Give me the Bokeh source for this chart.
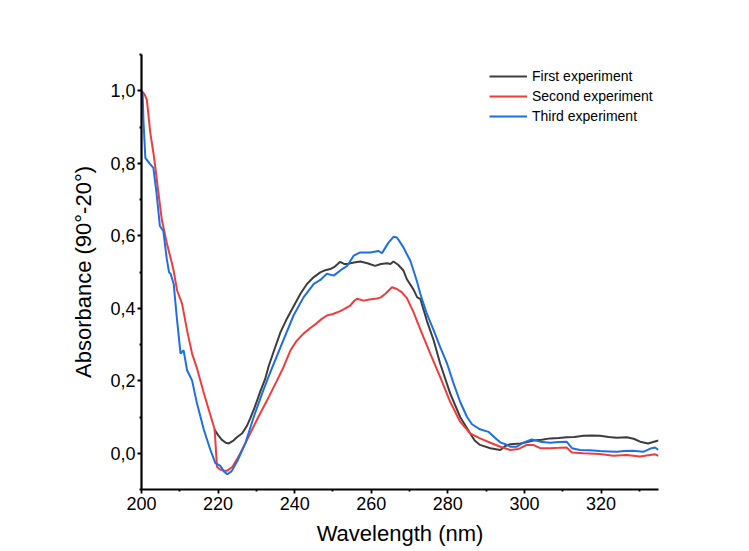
from bokeh.plotting import figure
from bokeh.models import Range1d, FixedTicker, CustomJSTickFormatter, Legend, LegendItem
from bokeh.embed import file_html
from bokeh.resources import INLINE

# ---- data ----
first_x = [219.0, 220.0, 221.0, 222.0, 222.8, 224.0, 225.0, 226.3, 227.5, 228.4, 229.5, 231.0, 232.3, 233.2,
           234.5, 236.3, 238.0, 239.7, 241.5, 243.2, 245.0, 246.7, 248.0, 249.3, 250.5, 251.9, 253.0, 253.7,
           255.5, 257.1, 259.0, 261.0, 262.5, 264.1, 265.0, 265.8, 267.0, 268.4, 269.3, 271.0, 272.0, 272.8,
           274.5, 276.3, 278.0, 280.6, 283.2, 285.8, 287.0, 288.4, 291.1, 293.7, 295.0, 296.3, 298.9, 300.5,
           302.3, 304.5, 306.7, 309.0, 311.0, 313.0, 315.4, 317.5, 319.7, 322.0, 324.1, 326.7, 328.5, 330.2,
           332.3, 334.5, 335.0]
first_y = [0.066, 0.050, 0.037, 0.029, 0.027, 0.035, 0.045, 0.055, 0.075, 0.096, 0.125, 0.17, 0.205, 0.24,
           0.28, 0.334, 0.372, 0.405, 0.44, 0.467, 0.486, 0.499, 0.505, 0.508, 0.515, 0.528, 0.522, 0.522,
           0.526, 0.529, 0.524, 0.517, 0.522, 0.524, 0.522, 0.529, 0.52, 0.504, 0.48, 0.452, 0.43, 0.426,
           0.366, 0.311, 0.247, 0.165, 0.10, 0.055, 0.035, 0.023, 0.014, 0.009, 0.02, 0.025, 0.027, 0.030,
           0.035, 0.037, 0.041, 0.042, 0.044, 0.045, 0.048, 0.049, 0.048, 0.045, 0.043, 0.044, 0.04, 0.032,
           0.027, 0.034, 0.035]

second_x = [200.0, 200.8, 201.4, 202.3, 203.1, 203.6, 204.4, 205.3, 206.6, 207.9, 208.4, 209.3, 210.6, 211.9,
            213.2, 214.5, 216.3, 218.0, 219.1, 219.7, 220.5, 221.5, 222.4, 223.7, 225.0, 225.8, 227.0, 228.4,
            230.5, 232.8, 235.4, 237.1, 238.9, 240.5, 242.3, 244.0, 245.8, 247.0, 248.4, 250.0, 251.9, 253.0,
            254.5, 255.5, 256.3, 258.0, 259.5, 261.5, 262.5, 263.7, 265.4, 266.7, 268.0, 269.3, 271.0, 272.8,
            275.4, 278.0, 280.6, 283.2, 285.8, 288.4, 291.1, 293.7, 296.3, 298.4, 298.9, 300.6, 302.3, 304.1,
            306.7, 309.0, 311.0, 312.4, 315.4, 319.7, 323.2, 326.7, 330.2, 332.8, 334.1, 335.0]
second_y = [1.0, 0.99, 0.975, 0.884, 0.829, 0.79, 0.72, 0.645, 0.58, 0.526, 0.503, 0.449, 0.412, 0.339,
            0.275, 0.234, 0.165, 0.105, 0.066, -0.037, -0.045, -0.048, -0.048, -0.038, -0.015, 0.0, 0.025, 0.055,
            0.10, 0.146, 0.201, 0.238, 0.284, 0.31, 0.33, 0.345, 0.359, 0.37, 0.38, 0.384, 0.392, 0.398,
            0.407, 0.42, 0.426, 0.421, 0.424, 0.427, 0.43, 0.44, 0.458, 0.453, 0.444, 0.428, 0.39, 0.342,
            0.275, 0.21, 0.142, 0.087, 0.055, 0.041, 0.029, 0.018, 0.009, 0.012, 0.014, 0.023, 0.023, 0.014,
            0.014, 0.015, 0.016, 0.002, 0.0, -0.002, -0.007, -0.005, -0.009, -0.005, -0.003, -0.007]

third_x = [200.0, 200.3, 200.5, 201.0, 202.3, 203.1, 203.9, 204.8, 205.7, 206.6, 207.2, 207.6, 208.4, 209.3,
           210.2, 211.0, 211.9, 213.2, 214.5, 216.3, 218.0, 219.3, 220.6, 221.5, 222.4, 223.5, 225.0, 227.1,
           229.3, 231.5, 232.8, 233.5, 236.3, 239.7, 242.3, 245.0, 246.7, 248.4, 250.2, 252.0, 253.7, 255.4,
           257.1, 259.7, 261.9, 262.8, 264.5, 265.8, 266.7, 267.6, 268.4, 269.3, 270.2, 271.0, 271.9, 272.8,
           274.5, 276.3, 278.0, 279.8, 281.5, 283.2, 285.0, 286.3, 288.4, 290.6, 292.8, 293.7, 295.0, 296.3,
           298.0, 299.7, 301.9, 304.1, 306.7, 309.0, 311.0, 312.4, 314.5, 317.0, 319.7, 322.0, 324.1, 326.0,
           328.4, 331.0, 333.2, 334.1, 335.0]
third_y = [1.0, 0.993, 0.92, 0.815, 0.797, 0.787, 0.72, 0.627, 0.613, 0.536, 0.499, 0.495, 0.467, 0.366,
           0.275, 0.284, 0.229, 0.201, 0.137, 0.064, 0.009, -0.027, -0.035, -0.05, -0.058, -0.05, -0.022, 0.027,
           0.10, 0.165, 0.201, 0.22, 0.293, 0.38, 0.43, 0.467, 0.478, 0.495, 0.49, 0.505, 0.517, 0.545,
           0.554, 0.554, 0.558, 0.552, 0.581, 0.597, 0.595, 0.581, 0.568, 0.549, 0.531, 0.505, 0.475, 0.44,
           0.385, 0.339, 0.293, 0.247, 0.192, 0.142, 0.10, 0.08, 0.066, 0.059, 0.038, 0.03, 0.025, 0.018,
           0.018, 0.029, 0.038, 0.032, 0.029, 0.031, 0.032, 0.014, 0.009, 0.008, 0.006, 0.005, 0.004, 0.006,
           0.007, 0.004, 0.014, 0.016, 0.009]

series_names = ["First experiment", "Second experiment", "Third experiment"]
series_colors = ["#3d3d3d", "#f23c3c", "#1d6fe3"]

x_major = [200, 220, 240, 260, 280, 300, 320]
x_minor = [210, 230, 250, 270, 290, 310, 330]
y_major = [0.0, 0.2, 0.4, 0.6, 0.8, 1.0]
y_minor = [-0.1, 0.1, 0.3, 0.5, 0.7, 0.9, 1.1]

FONT = "Liberation Sans"

p = figure(width=749, height=551, output_backend="svg", toolbar_location=None,
           x_range=Range1d(200, 335), y_range=Range1d(-0.1, 1.1),
           min_border_left=141, min_border_right=91, min_border_top=54, min_border_bottom=62)
p.outline_line_color = None
p.background_fill_color = "white"
p.border_fill_color = "white"
p.xgrid.grid_line_color = None
p.ygrid.grid_line_color = None

renderers = []
for xs, ys, c in zip([first_x, second_x, third_x], [first_y, second_y, third_y], series_colors):
    r = p.line(xs, ys, line_color=c, line_width=2)
    renderers.append(r)

p.xaxis.ticker = FixedTicker(ticks=x_major, minor_ticks=x_minor)
p.yaxis.ticker = FixedTicker(ticks=y_major, minor_ticks=y_minor)
p.yaxis.formatter = CustomJSTickFormatter(code="return tick.toFixed(1).replace('.', ',');")

for ax in (p.xaxis, p.yaxis):
    ax.axis_line_width = 2.2
    ax.axis_line_color = "black"
    ax.major_tick_line_color = "black"
    ax.minor_tick_line_color = "black"
    ax.major_tick_line_width = 1.8
    ax.minor_tick_line_width = 1.8
    ax.major_tick_in = 0
    ax.major_tick_out = 4
    ax.minor_tick_in = 0
    ax.minor_tick_out = 2
    ax.major_label_text_font = FONT
    ax.major_label_text_font_size = "18px"
    ax.major_label_text_color = "black"
    ax.axis_label_text_font = FONT
    ax.axis_label_text_font_size = "22px"
    ax.axis_label_text_font_style = "normal"
    ax.axis_label_text_color = "black"

p.xaxis.axis_label = "Wavelength (nm)"
p.yaxis.axis_label = "Absorbance (90°-20°)"
p.xaxis.major_label_standoff = 3
p.xaxis.axis_label_standoff = 8
p.yaxis.major_label_standoff = 2
p.yaxis.axis_label_standoff = 11

legend = Legend(items=[LegendItem(label=n, renderers=[r]) for n, r in zip(series_names, renderers)],
                location=(348, 363), orientation="vertical")
legend.border_line_color = None
legend.background_fill_alpha = 0
legend.padding = 0
legend.margin = 0
legend.spacing = 0
legend.glyph_width = 38
legend.glyph_height = 20
legend.label_height = 20
legend.label_standoff = 5
legend.label_text_font = FONT
legend.label_text_font_size = "14px"
legend.label_text_color = "black"
p.add_layout(legend, "center")

open("out.html", "w").write(file_html(p, INLINE))
